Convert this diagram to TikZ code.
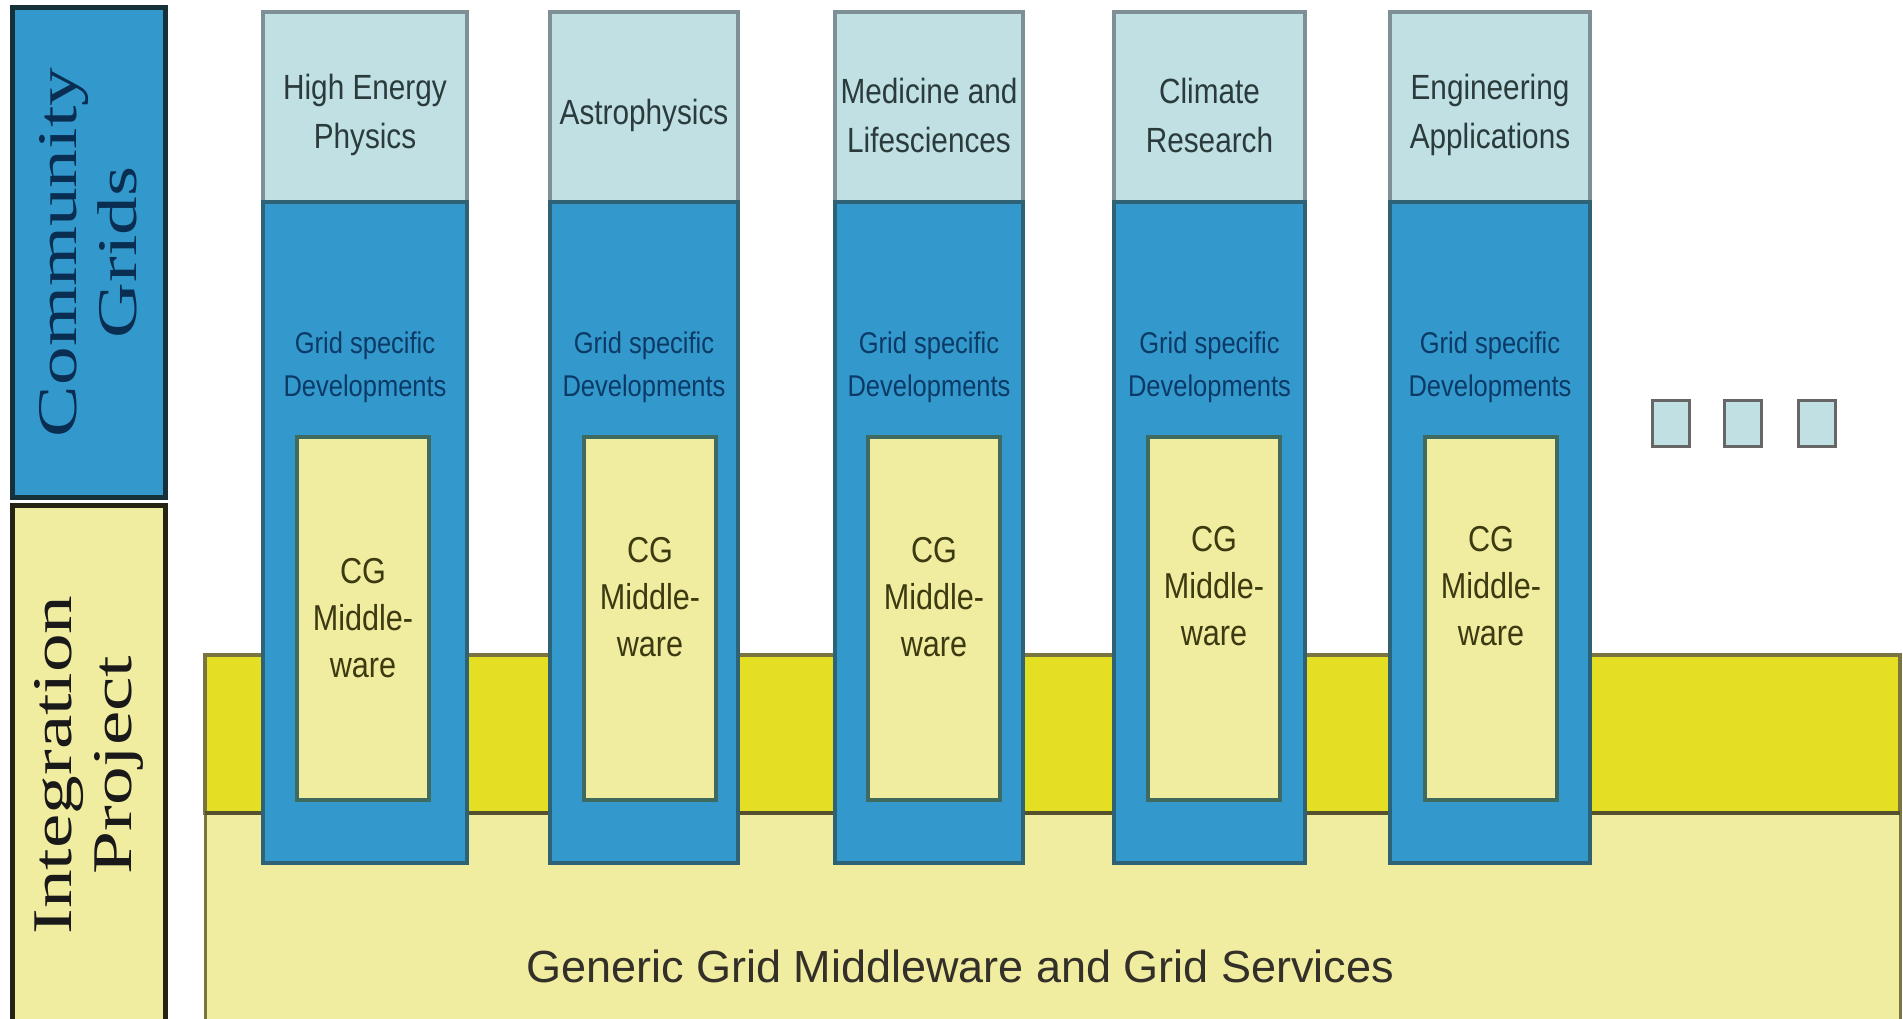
\documentclass[tikz,border=0pt]{standalone}
\usepackage{fontspec}
\setmainfont{Liberation Serif}
\setsansfont{Liberation Sans}
\newfontfamily\sideserif{Liberation Serif}[FakeStretch=1.38]
\newfontfamily\colsans{Liberation Sans}[FakeStretch=0.85]
\usetikzlibrary{positioning}
\definecolor{gridblue}{HTML}{3399CC}
\definecolor{headfill}{HTML}{C0E0E4}
\definecolor{headline}{HTML}{7E9095}
\definecolor{bluelline}{HTML}{2F6275}
\definecolor{paleyellow}{HTML}{F0ECA0}
\definecolor{bandyellow}{HTML}{E4DF22}
\definecolor{oliveline}{HTML}{7A7440}
\definecolor{cgline}{HTML}{3F6A60}
\definecolor{devtext}{HTML}{0B3A66}
\definecolor{headtext}{HTML}{2B3B3B}
\definecolor{cgtext}{HTML}{3C3A10}

\begin{document}
\begin{tikzpicture}[x=1pt,y=-1pt,
                    box/.style={rectangle,inner sep=0pt,outer sep=0pt,anchor=north west},
                    headbox/.style={box,fill=headfill,draw=headline,line width=4pt,minimum height=190pt},
                    headlabel/.style={align=center,text=headtext,font=\colsans\fontsize{35}{49}\selectfont},
                    devbox/.style={box,fill=gridblue,draw=bluelline,line width=4pt,minimum height=661pt},
                    devlabel/.style={align=center,text=devtext,font=\colsans\fontsize{30}{43}\selectfont},
                    cgbox/.style={box,fill=paleyellow,draw=cgline,line width=4pt,
                        minimum width=132pt,minimum height=363pt},
                    cglabel/.style={align=center,text=cgtext,font=\colsans\fontsize{36}{47}\selectfont},
                    morebox/.style={box,fill=headfill,draw=black!60,line width=3pt,
                        minimum width=37pt,minimum height=46pt},
                    sidebox/.style={rectangle,inner sep=0pt,rotate=90,line width=5pt,align=center,
                        minimum height=153pt,font=\sideserif\fontsize{56}{60}\selectfont}]
                    \useasboundingbox (0,0) rectangle (1903,1019);

                    \node[box,fill=paleyellow,draw=oliveline,line width=3pt,
                        minimum width=1695pt,minimum height=215pt] (generic) at (205,813) {};
                    \node[box,fill=bandyellow,draw=oliveline,line width=4pt,
                        minimum width=1695pt,minimum height=158pt] (band) at (205,655) {};
                    \draw[line width=4pt,draw=black!30!oliveline] (band.south west) -- (band.south east);
                    \node[text=black!85!olive,font=\sffamily\fontsize{45}{50}\selectfont] (gentext) at (960,966)
                        {Generic Grid Middleware and Grid Services};

                    \foreach \cx/\cw/\gx/\ttl/\up [count=\i] in {263/204/297/{High Energy\\Physics}/0,
                        550/188/584/Astrophysics/21, 835/188/868/{Medicine and\\Lifesciences}/21,
                        1114/191/1148/{Climate\\Research}/32, 1390/200/1425/{Engineering\\Applications}/32}{
                        \node[headbox,minimum width=\cw pt] (head\i) at (\cx,12) {};
                        \node[headlabel] at ([yshift=-8pt]head\i.center) {\ttl};
                        \node[devbox,minimum width=\cw pt] (dev\i) at (\cx,202) {};
                        \node[devlabel] at (\cx+\cw/2,367) {Grid specific\\Developments};
                        \node[cgbox] (cg\i) at (\gx,437) {};
                        \node[cglabel] at ([yshift=\up pt]cg\i.center) {CG\\Middle-\\ware};
                    }

                    \foreach \sx [count=\j] in {1652,1724,1798}
                        \node[morebox] (more\j) at (\sx,400) {};

                    \node[sidebox,fill=gridblue,draw=black!50!bluelline,text=devtext!80!black,
                        minimum width=489pt] (cgrids) at (88.5,252.5) {Community\\Grids};
                    \node[sidebox,fill=paleyellow,draw=black!70!oliveline,text=black!90,
                        minimum width=520pt] (intproj) at (88.5,765) {Integration\\Project};
\end{tikzpicture}
\end{document}
